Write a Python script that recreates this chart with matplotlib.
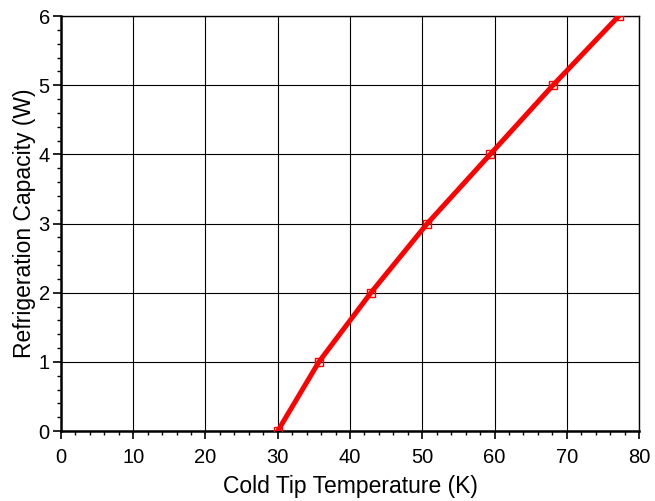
import matplotlib.pyplot as plt
from matplotlib.ticker import MultipleLocator

# cold tip temperature (K) vs refrigeration capacity (W)
temp_k = [30.0, 35.7, 42.9, 50.7, 59.4, 68.1, 77.2]
capacity_w = [0, 1, 2, 3, 4, 5, 6]

plt.rcParams['font.family'] = ['Liberation Sans', 'DejaVu Sans']

fig = plt.figure(figsize=(6.55, 5.01), dpi=100)
ax = fig.add_axes([0.0931, 0.1397, 0.8825, 0.8283])

ax.plot(temp_k, capacity_w, color='red', linewidth=3.6, zorder=3)
ax.plot(temp_k, capacity_w, linestyle='none', marker='s', markersize=6,
        markerfacecolor='none', markeredgecolor='red', markeredgewidth=1.0, zorder=4)

ax.set_xlim(0, 80)
ax.set_ylim(0, 6)
ax.xaxis.set_major_locator(MultipleLocator(10))
ax.xaxis.set_minor_locator(MultipleLocator(2))
ax.yaxis.set_major_locator(MultipleLocator(1))
ax.yaxis.set_minor_locator(MultipleLocator(0.2))

ax.grid(True, which='major', color='black', linewidth=0.8)
ax.tick_params(which='major', direction='out', length=5.5, width=1.2, labelsize=14.5)
ax.tick_params(axis='x', which='major', pad=6.5)
ax.tick_params(axis='y', which='major', pad=2.5)
ax.tick_params(which='minor', direction='out', length=3, width=1.0)
for side in ['left', 'bottom']:
    ax.spines[side].set_linewidth(1.8)
for side in ['top', 'right']:
    ax.spines[side].set_linewidth(1.0)

ax.set_xlabel('Cold Tip Temperature (K)', fontsize=16.5, labelpad=6)
ax.set_ylabel('Refrigeration Capacity (W)', fontsize=16.5, labelpad=2)

fig.savefig('out.png', dpi=100)
